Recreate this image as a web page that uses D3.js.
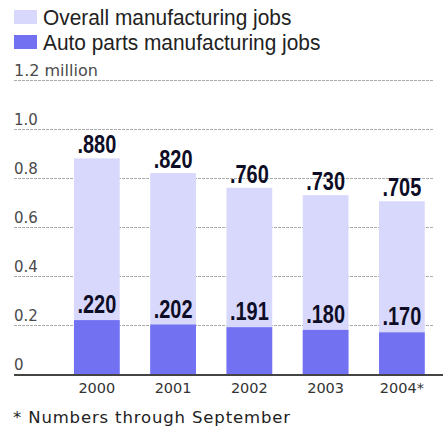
<!DOCTYPE html>
<html>
<head>
<meta charset="utf-8">
<script src="https://cdn.jsdelivr.net/npm/d3@7"></script>
<style>
  body { margin: 0; background: #fff; }
</style>
</head>
<body>
<div id="chart"></div>
<script>
// data
const years = ["2000", "2001", "2002", "2003", "2004*"];
const overallJobs = [0.880, 0.820, 0.760, 0.730, 0.705];
const autoPartsJobs = [0.220, 0.202, 0.191, 0.180, 0.170];
const yTicks = [0, 0.2, 0.4, 0.6, 0.8, 1.0, 1.2];
const yTickLabels = ["0", "0.2", "0.4", "0.6", "0.8", "1.0", "1.2 million"];

const w = 443;
const h = 430;
const lightBlue = "#d8d8fc";
const darkBlue = "#7171f1";

const svg = d3
  .select("#chart")
  .append("svg")
  .attr("width", w)
  .attr("height", h);

// scales
const x = d3
  .scaleBand()
  .domain(years)
  .range([58.7, 440])
  .paddingInner(0.4)
  .paddingOuter(0.2);

const y = d3.scaleLinear().domain([0, 1.2]).range([374, 80]);

// legend
const legend = [
  { label: "Overall manufacturing jobs", color: lightBlue },
  { label: "Auto parts manufacturing jobs", color: darkBlue },
];
legend.forEach(function (d, i) {
  svg
    .append("rect")
    .attr("x", 14)
    .attr("y", 10 + i * 25)
    .attr("width", 23)
    .attr("height", 14)
    .attr("fill", d.color);
  svg
    .append("text")
    .attr("transform", `translate(43,${25 + i * 25}) scale(0.95,1)`)
    .attr("font-family", "Liberation Sans, Arial, sans-serif")
    .attr("font-size", 22)
    .attr("fill", "#222")
    .text(d.label);
});

// gridlines
svg
  .append("g")
  .selectAll("line")
  .data(yTicks.slice(1))
  .join("line")
  .attr("x1", 14)
  .attr("x2", 433)
  .attr("y1", (d) => Math.round(y(d)) + 0.5)
  .attr("y2", (d) => Math.round(y(d)) + 0.5)
  .attr("stroke", "#aaa")
  .attr("stroke-dasharray", "3,1");

// tick labels
svg
  .append("g")
  .selectAll("text")
  .data(yTicks)
  .join("text")
  .attr("x", 14)
  .attr("y", (d) => y(d) - 4)
  .attr("font-family", "DejaVu Sans, Verdana, sans-serif")
  .attr("font-size", (d, i) => (i === yTicks.length - 1 ? 16 : 15))
  .attr("fill", "#4a4a4a")
  .text((d, i) => yTickLabels[i]);

// bars
svg
  .append("g")
  .selectAll("rect")
  .data(overallJobs)
  .join("rect")
  .attr("x", (d, i) => x(years[i]))
  .attr("y", (d) => y(d))
  .attr("width", x.bandwidth())
  .attr("height", (d) => y(0) - y(d))
  .attr("fill", lightBlue);

svg
  .append("g")
  .selectAll("rect")
  .data(autoPartsJobs)
  .join("rect")
  .attr("x", (d, i) => x(years[i]))
  .attr("y", (d) => y(d))
  .attr("width", x.bandwidth())
  .attr("height", (d) => y(0) - y(d))
  .attr("fill", darkBlue);

// value labels
function valueLabels(values, gap) {
  svg
    .append("g")
    .selectAll("text")
    .data(values)
    .join("text")
    .attr("text-anchor", "middle")
    .attr(
      "transform",
      (d, i) =>
        `translate(${x(years[i]) + x.bandwidth() / 2},${y(d) - gap}) scale(0.95,1.2)`
    )
    .attr("font-family", "Liberation Sans, Arial, sans-serif")
    .attr("font-weight", "bold")
    .attr("font-size", 21)
    .attr("fill", "#0d0d26")
    .text((d) => d3.format(".3f")(d).replace(/^0/, ""));
}
valueLabels(overallJobs, 5);
valueLabels(autoPartsJobs, 7);

// baseline
svg
  .append("line")
  .attr("x1", 14)
  .attr("x2", 443)
  .attr("y1", y(0) + 1)
  .attr("y2", y(0) + 1)
  .attr("stroke", "#444")
  .attr("stroke-width", 2);

// year labels
svg
  .append("g")
  .selectAll("text")
  .data(years)
  .join("text")
  .attr("x", (d) => x(d) + x.bandwidth() / 2)
  .attr("y", 393)
  .attr("text-anchor", "middle")
  .attr("font-family", "DejaVu Sans, Verdana, sans-serif")
  .attr("font-size", 14.5)
  .attr("fill", "#333")
  .text((d) => d);

// footnote
svg
  .append("text")
  .attr("x", 13)
  .attr("y", 423)
  .attr("font-family", "DejaVu Sans, Verdana, sans-serif")
  .attr("font-size", 16.5)
  .attr("letter-spacing", 0.85)
  .attr("fill", "#222")
  .text("* Numbers through September");
</script>
</body>
</html>
